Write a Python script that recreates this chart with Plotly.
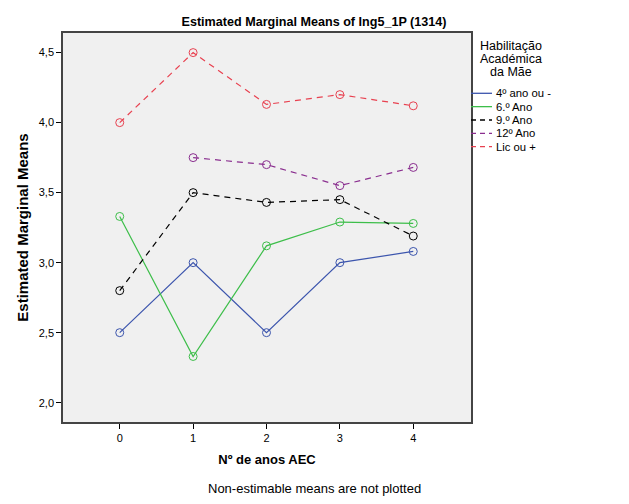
import plotly.graph_objects as go

x_cats = [0, 1, 2, 3, 4]
series_names = ["4º ano ou -", "6.º Ano", "9.º Ano", "12º Ano", "Lic ou +"]
ano4 = [2.50, 3.00, 2.50, 3.00, 3.08]
ano6 = [3.33, 2.33, 3.12, 3.29, 3.28]
ano9 = [2.80, 3.50, 3.43, 3.45, 3.19]
ano12 = [None, 3.75, 3.70, 3.55, 3.68]
lic = [4.00, 4.50, 4.13, 4.20, 4.12]
y_ticks = [2.0, 2.5, 3.0, 3.5, 4.0, 4.5]
y_tick_labels = ["2,0", "2,5", "3,0", "3,5", "4,0", "4,5"]
legend_title_lines = ["Habilitação", "Académica", "da Mãe"]

colors = ["#3C55AD", "#3DBE4A", "#000000", "#8A2E8F", "#E84150"]
dashes = ["solid", "solid", "dash", "dash", "dash"]
all_series = [ano4, ano6, ano9, ano12, lic]

FONT = "Liberation Sans, Arial, sans-serif"
DASH = "6px,5px"

# page has an 8px body margin; plot area in page pixels: 63..471 x 33..422
OFF = 8
W, H = 629 - OFF, 504 - OFF
PL, PR, PT, PB = 63, 471, 33, 422


def px_x(p):
    return (p - PL) / (PR - PL)


def px_y(p):
    return (PB - p) / (PB - PT)


fig = go.Figure()
for name, vals, col, dsh in zip(series_names, all_series, colors, dashes):
    fig.add_trace(go.Scatter(
        x=x_cats, y=vals, mode="lines+markers", name=name, showlegend=False,
        line=dict(color=col, width=1.2, dash=DASH if dsh == "dash" else "solid"),
        marker=dict(symbol="circle-open", size=8, color=col, line=dict(width=1, color=col)),
        connectgaps=False,
    ))

fig.update_layout(
    width=W, height=H,
    margin=dict(l=PL - OFF, r=W - (PR - OFF), t=PT - OFF, b=H - (PB - OFF)),
    paper_bgcolor="white",
    plot_bgcolor="#F0F0F0",
    font=dict(family=FONT, size=11, color="black"),
    title=dict(text="<b>Estimated Marginal Means of Ing5_1P (1314)</b>", x=(314 - OFF) / W,
               xref="container", xanchor="center", y=1 - (22 - OFF) / H, yref="container",
               yanchor="middle", font=dict(size=12.6, family=FONT)),
    showlegend=False,
    xaxis=dict(
        range=[-0.773, 4.787], tickmode="array", tickvals=x_cats,
        ticktext=[str(v) for v in x_cats],
        ticks="outside", ticklen=5, tickcolor="black", showgrid=False, zeroline=False,
        showline=True, linecolor="#444444", linewidth=1.5, mirror=True,
        title=dict(text="<b>Nº de anos AEC</b>", font=dict(size=13, family=FONT), standoff=12),
    ),
    yaxis=dict(
        range=[1.862, 4.64], tickmode="array", tickvals=y_ticks, ticktext=y_tick_labels,
        ticks="outside", ticklen=5, tickcolor="black", showgrid=False, zeroline=False,
        showline=True, linecolor="#444444", linewidth=1.5, mirror=True,
        title=dict(text="<b>Estimated Marginal Means</b>", font=dict(size=15, family=FONT), standoff=7),
    ),
)

# legend title
for i, t in enumerate(legend_title_lines):
    fig.add_annotation(text=t, xref="paper", yref="paper", x=px_x(511), y=px_y(46 + 13 * i),
                       xanchor="center", yanchor="middle", showarrow=False,
                       font=dict(size=12.5, family=FONT))

# legend entries
for i, (name, col, dsh) in enumerate(zip(series_names, colors, dashes)):
    yy = px_y(93.3 + 13.35 * i)
    fig.add_shape(type="line", xref="paper", yref="paper", x0=px_x(471), x1=px_x(492),
                  y0=yy, y1=yy, line=dict(color=col, width=1.3,
                                          dash="5px,4px" if dsh == "dash" else "solid"))
    fig.add_annotation(text=name, xref="paper", yref="paper", x=px_x(494), y=yy,
                       xanchor="left", yanchor="middle", showarrow=False,
                       font=dict(size=11.3, family=FONT))

fig.add_annotation(text="Non-estimable means are not plotted", xref="paper", yref="paper",
                   x=px_x(314), y=px_y(488), xanchor="center", yanchor="middle",
                   showarrow=False, font=dict(size=13, family=FONT))

fig.write_html("out.html")
